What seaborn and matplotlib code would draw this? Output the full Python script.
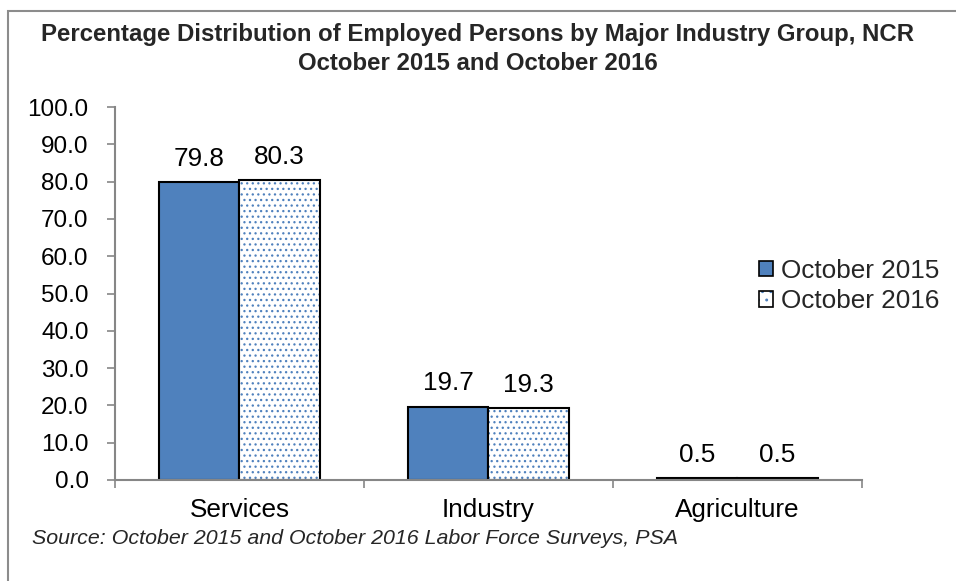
import matplotlib
matplotlib.use("Agg")
import matplotlib.pyplot as plt
from matplotlib.patches import Rectangle, Patch
from matplotlib.colors import to_rgba
import seaborn as sns
import pandas as pd

categories = ["Services", "Industry", "Agriculture"]
periods = ["October 2015", "October 2016"]
values_2015 = [79.8, 19.7, 0.5]
values_2016 = [80.3, 19.3, 0.5]
yticks = [0, 10, 20, 30, 40, 50, 60, 70, 80, 90, 100]
title = ("Percentage Distribution of Employed Persons by Major Industry Group, NCR\n"
         "October 2015 and October 2016")
source = "Source: October 2015 and October 2016 Labor Force Surveys, PSA"

BLUE = "#4F81BD"
AXIS = "#868686"

df = pd.DataFrame({
    "category": categories * 2,
    "period": [periods[0]] * 3 + [periods[1]] * 3,
    "value": values_2015 + values_2016,
})

sns.set_theme(style="white")
plt.rcParams["font.family"] = ["Liberation Sans", "DejaVu Sans"]
plt.rcParams["hatch.linewidth"] = 0.9

fig = plt.figure(figsize=(9.56, 5.81), dpi=100)
ax = fig.add_axes([115 / 956, 1 - 480 / 581, (862 - 115) / 956, (480 - 107) / 581])

sns.barplot(data=df, x="category", y="value", hue="period", order=categories,
            hue_order=periods, palette=[BLUE, "white"], edgecolor="black",
            linewidth=1.5, width=0.643, ax=ax, legend=False, saturation=1)

# hatch the second series with blue dots
for c in ax.containers[1]:
    c.set_hatch("...")
    c._hatch_color = to_rgba(BLUE)

for cont in ax.containers:
    ax.bar_label(cont, fmt="%.1f", padding=8, fontsize=18.8, color="black")

ax.set_xlim(-0.5, 2.5)
ax.set_ylim(0, 100)
ax.set_yticks(yticks)
ax.set_yticklabels([f"{v:.1f}" for v in yticks])
ax.set_xticks([-0.5, 0.5, 1.5, 2.5], minor=False)
ax.set_xticklabels([])
ax.set_xticks([0, 1, 2], minor=True)
ax.set_xticklabels(categories, minor=True)
ax.tick_params(axis="x", which="major", direction="out", length=6, width=1.2, color=AXIS, bottom=True)
ax.tick_params(axis="x", which="minor", length=0, pad=13, labelsize=18.8, labelcolor="black")
ax.tick_params(axis="y", direction="out", length=6, width=1.2, color=AXIS, left=True,
               pad=13, labelsize=17.5, labelcolor="black")
ax.set_xlabel("")
ax.set_ylabel("")
for s in ["top", "right"]:
    ax.spines[s].set_visible(False)
for s in ["left", "bottom"]:
    ax.spines[s].set_color(AXIS)
    ax.spines[s].set_linewidth(1.5)

h1 = Patch(facecolor=BLUE, edgecolor="black", linewidth=1.2)
h2 = Patch(facecolor="white", edgecolor="black", linewidth=1.2, hatch="..")
h2._hatch_color = to_rgba(BLUE)
fig.legend([h1, h2], periods, loc="center left", bbox_to_anchor=(759 / 956, 1 - 286 / 581),
           frameon=False, fontsize=18.8, handlelength=0.55, handleheight=0.55,
           handletextpad=0.3, labelspacing=0.25, borderpad=0, borderaxespad=0)

fig.text(0.5, 1 - 49 / 581, title, ha="center", va="center", fontsize=17.3,
         fontweight="bold", linespacing=1.35)
fig.text(32 / 956, 1 - 538 / 581, source, ha="left", va="center", fontsize=15.4,
         style="italic")

fig.patches.append(Rectangle((8 / 956, -0.1), 1.2, 1 - 11 / 581 + 0.1,
                             transform=fig.transFigure, fill=False,
                             edgecolor="#8c8c8c", linewidth=1.5, clip_on=False))

fig.savefig("out.png", dpi=100)
